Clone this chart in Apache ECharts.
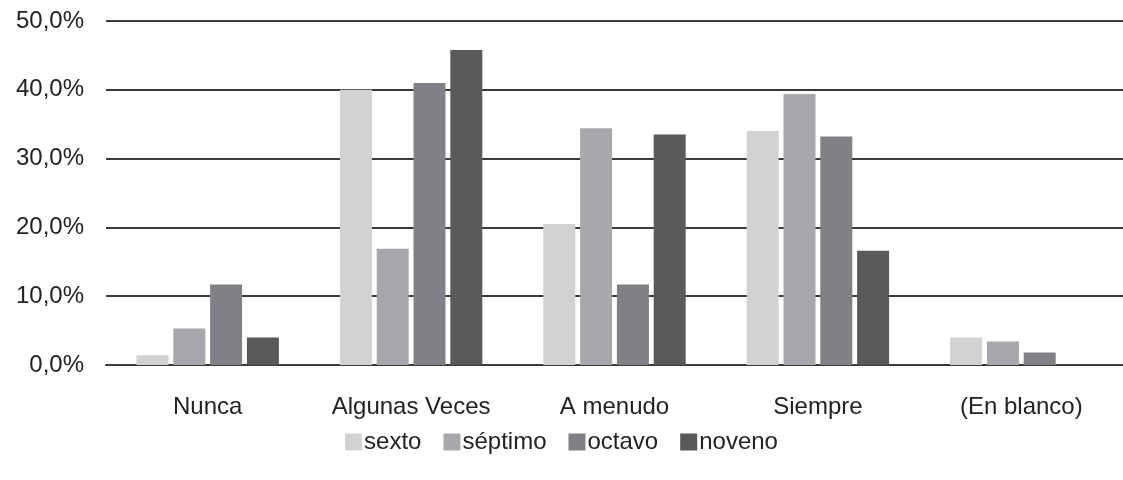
<!DOCTYPE html>
<html>
<head>
<meta charset="utf-8">
<script src="https://cdn.jsdelivr.net/npm/echarts@6/dist/echarts.min.js"></script>
<style>
  html, body { margin: 0; padding: 0; background: #fff; }
  #chart { width: 1123px; height: 480px; }
</style>
</head>
<body>
<div id="chart"></div>
<script>
// categorias y valores (porcentaje)
var categories = ['Nunca', 'Algunas Veces', 'A menudo', 'Siempre', '(En blanco)'];
var sexto   = [1.4, 40.0, 20.5, 34.0, 4.0];
var septimo = [5.3, 16.9, 34.4, 39.4, 3.4];
var octavo  = [11.7, 41.0, 11.7, 33.2, 1.8];
var noveno  = [4.0, 45.8, 33.5, 16.6, 0];
var seriesNames = ['sexto', 'séptimo', 'octavo', 'noveno'];
var colors = ['#d1d2d4', '#a7a8ab', '#808184', '#58595b'];

var chart = echarts.init(document.getElementById('chart'));

var font = '"Liberation Sans", Arial, sans-serif';

var option = {
  animation: false,
  color: colors,
  grid: { left: 106, right: 0, top: 21, bottom: 115 },
  legend: {
    data: seriesNames,
    top: 425,
    left: 'center',
    icon: 'rect',
    itemWidth: 17,
    itemHeight: 17,
    itemGap: 22,
    textStyle: { fontFamily: font, fontSize: 24, color: '#222', padding: [0, 0, 0, -3] }
  },
  xAxis: {
    type: 'category',
    data: categories,
    axisLine: { lineStyle: { color: '#3a3a3a', width: 2 } },
    axisTick: { show: false },
    axisLabel: { fontFamily: font, fontSize: 24, color: '#222', margin: 30, interval: 0 }
  },
  yAxis: {
    type: 'value',
    min: 0,
    max: 50,
    interval: 10,
    axisLine: { show: false },
    axisTick: { show: false },
    splitLine: { lineStyle: { color: '#3a3a3a', width: 2 } },
    axisLabel: {
      fontFamily: font, fontSize: 24, color: '#222', margin: 22,
      formatter: function (v) { return v.toFixed(1).replace('.', ',') + '%'; }
    }
  },
  series: [
    { name: 'sexto', type: 'bar', data: sexto, barWidth: 32, barGap: '15%' },
    { name: 'séptimo', type: 'bar', data: septimo, barWidth: 32, barGap: '15%' },
    { name: 'octavo', type: 'bar', data: octavo, barWidth: 32, barGap: '15%' },
    { name: 'noveno', type: 'bar', data: noveno, barWidth: 32, barGap: '15%' }
  ]
};

chart.setOption(option);
</script>
</body>
</html>
